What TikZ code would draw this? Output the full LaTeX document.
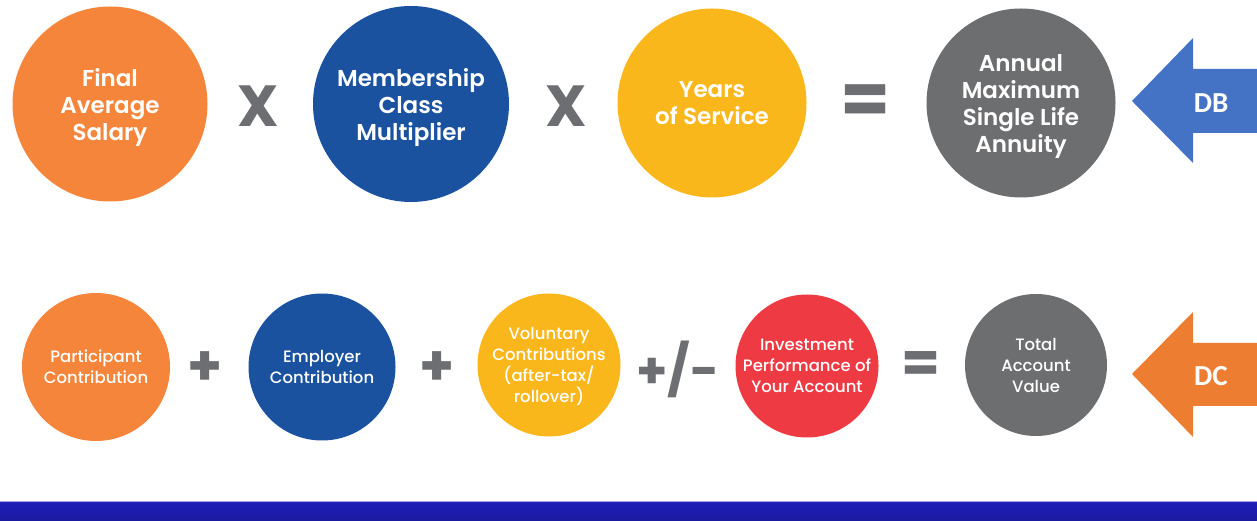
\documentclass[tikz,border=0pt]{standalone}
\usepackage{fontspec}
\setmainfont{Poppins}
\newfontfamily\semiboldfont{Poppins SemiBold}
\newfontfamily\mediumfont{Poppins Medium}
\newfontfamily\tagfont{Carlito}
\usetikzlibrary{positioning}

\begin{document}
\begin{tikzpicture}[x=1pt, y=1pt]
\definecolor{termOrange}{HTML}{F4853A}
\definecolor{termBlue}{HTML}{1A52A0}
\definecolor{termYellow}{HTML}{F9B71C}
\definecolor{termGray}{HTML}{6D6E70}
\definecolor{termRed}{HTML}{EE3B43}
\definecolor{opGray}{HTML}{6D6E71}
\definecolor{dbBlue}{HTML}{4472C4}
\definecolor{dcOrange}{HTML}{ED7D31}
\definecolor{barTop}{HTML}{1E1EBA}
\definecolor{barBottom}{HTML}{1A1AA0}

\tikzset{
    bigterm/.style={
        circle, inner sep=0pt, text=white, align=center, text depth=0pt,
        font=\semiboldfont\fontsize{23}{27}\selectfont,
    },
    smallterm/.style={
        circle, inner sep=0pt, text=white, align=center, text depth=0pt,
        font=\mediumfont\fontsize{16.5}{21}\selectfont,
    },
    bigop/.style={inner sep=0pt, text=opGray, font=\fontsize{58}{58}\selectfont\bfseries},
    smallop/.style={inner sep=0pt, text=opGray, font=\fontsize{56}{56}\selectfont\bfseries},
    plantag/.style={inner sep=0pt, text=white, font=\tagfont\fontsize{29}{29}\selectfont\bfseries},
}

\clip (0,0) rectangle (1257,521);
\fill[white] (0,0) rectangle (1257,521);

% defined benefit: salary x multiplier x service = annuity
\node[bigterm, fill=termOrange, minimum size=195pt] (salary) at (110,417) {Final\\Average\\Salary};
\node[bigop] (times1) at (258,415) {X};
\node[bigterm, fill=termBlue, minimum size=196pt] (multiplier) at (411,417) {Membership\\Class\\Multiplier};
\node[bigop] (times2) at (566,415) {X};
\node[bigterm, fill=termYellow, minimum size=189pt] (service) at (712,418) {Years\\of Service};
\node[bigop, font=\fontsize{72}{72}\selectfont\bfseries] (equals1) at (866,416) {=};
\node[bigterm, fill=termGray, minimum size=189pt] (annuity) at (1021,418) {Annual\\Maximum\\Single Life\\Annuity};

% defined contribution: contributions +/- performance = account value
\node[smallterm, fill=termOrange, minimum size=148pt] (participant) at (96,154) {Participant\\Contribution};
\node[smallop] (plus1) at (205,152) {+};
\node[smallterm, fill=termBlue, minimum size=147pt] (employer) at (322,154) {Employer\\Contribution};
\node[smallop] (plus2) at (437,152) {+};
\node[smallterm, fill=termYellow, minimum size=143pt] (voluntary) at (549,156) {Voluntary\\Contributions\\(after-tax/\\rollover)};
\node[smallop, font=\fontsize{50}{50}\selectfont\bfseries] (plusminus) at (678,152) {+/-};
\node[smallterm, fill=termRed, minimum size=143pt] (performance) at (807,155) {Investment\\Performance of\\Your Account};
\node[smallop] (equals2) at (921,154) {=};
\node[smallterm, fill=termGray, minimum size=142pt] (account) at (1036,156) {Total\\Account\\Value};

% plan type arrows running off the right edge
\fill[dbBlue] (1132,420) -- (1193,483) -- (1193,452) -- (1270,452)
    -- (1270,388) -- (1193,388) -- (1193,358) -- cycle;
\node[plantag] (db) at (1211,418) {DB};

\fill[dcOrange] (1132,147) -- (1193,209) -- (1193,178) -- (1270,178)
    -- (1270,115) -- (1193,115) -- (1193,84) -- cycle;
\node[plantag] (dc) at (1211,145) {DC};

% footer band
\shade[top color=barTop, bottom color=barBottom] (0,0) rectangle (1257,19);
\draw[barTop!40, line width=1pt] (0,19) -- (1257,19);

\end{tikzpicture}
\end{document}
